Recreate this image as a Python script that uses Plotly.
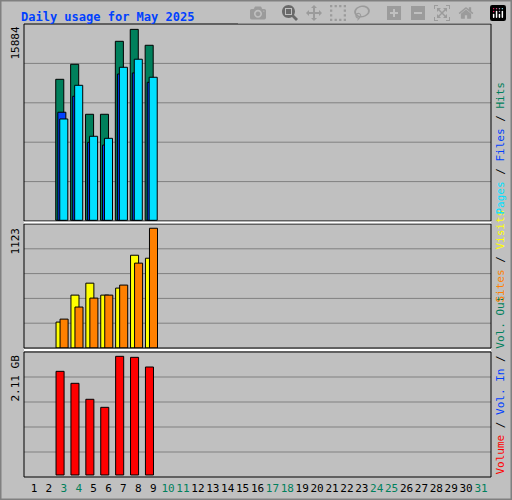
import plotly.graph_objects as go

days = [3, 4, 5, 6, 7, 8, 9]
hits = [11730, 12980, 8820, 8820, 14890, 15884, 14560]
files = [8990, 10320, 6490, 6260, 12170, 12260, 11480]
pages = [8430, 11230, 6990, 6820, 12730, 13400, 11900]
visits = [243, 496, 608, 496, 562, 870, 842]
sites = [271, 384, 468, 496, 590, 796, 1123]
volume_gb = [1.843, 1.630, 1.346, 1.203, 2.11, 2.092, 1.920]

all_days = list(range(1, 32))
weekend = [3, 4, 10, 11, 17, 18, 24, 25, 31]

C_HITS, C_FILES, C_PAGES = '#00805c', '#0040ff', '#00e0ff'
C_VISITS, C_SITES, C_VOL = '#ffff00', '#ff8000', '#ff0000'
FONT = 'DejaVu Sans Mono'

fig = go.Figure()
line = dict(color='black', width=1)

def bar(y, color, off, ax):
    fig.add_trace(go.Bar(x=days, y=y, marker_color=color, marker_line=line,
                         offset=off, width=0.54, xaxis='x', yaxis=ax))

bar(hits, C_HITS, -0.54, 'y')
bar(files, C_FILES, -0.40, 'y')
bar(pages, C_PAGES, -0.27, 'y')
bar(visits, C_VISITS, -0.52, 'y2')
bar(sites, C_SITES, -0.25, 'y2')
bar(volume_gb, C_VOL, -0.52, 'y3')

ticktext = ['<span style="color:%s">%d</span>' % ('#00805c' if d in weekend else 'black', d)
            for d in all_days]

xd = [24 / 512, 491 / 512]
yax = dict(showgrid=False, zeroline=False, showticklabels=False, fixedrange=True)
fig.update_layout(
    width=512, height=500, margin=dict(l=0, r=0, t=0, b=0),
    paper_bgcolor='#c0c0c0', plot_bgcolor='#c0c0c0',
    barmode='overlay', showlegend=False,
    font=dict(family=FONT, size=11, color='black'),
    xaxis=dict(domain=xd, range=[0.33, 31.67], anchor='y3', tickvals=all_days,
               ticktext=ticktext, ticks='', showgrid=False, zeroline=False,
               tickangle=0, ticklabelstandoff=3,
               tickfont=dict(family=FONT, size=11)),
    yaxis=dict(domain=[0.558, 0.952], range=[-58, 16330], anchor='x', **yax),
    yaxis2=dict(domain=[0.304, 0.552], range=[0, 1163], anchor='x', **yax),
    yaxis3=dict(domain=[0.046, 0.296], range=[-0.036, 2.187], anchor='x', **yax),
)

shapes = []
for ax in ['y', 'y2', 'y3']:
    for f in [0.2, 0.4, 0.6, 0.8]:
        shapes.append(dict(type='line', xref='x domain', yref=ax + ' domain',
                           x0=0, x1=1, y0=f, y1=f, line=dict(color='#808080', width=1),
                           layer='below'))
    shapes.append(dict(type='rect', xref='x domain', yref=ax + ' domain',
                       x0=0, x1=1, y0=0, y1=1, line=dict(color='black', width=1)))
for yp in [1 - 222.5 / 500, 1 - 350 / 500]:
    shapes.append(dict(type='line', xref='paper', yref='paper', x0=xd[0], x1=xd[1],
                       y0=yp, y1=yp, line=dict(color='white', width=2)))
shapes.append(dict(type='rect', xref='paper', yref='paper', x0=0.001, x1=0.999,
                   y0=0.001, y1=0.999, line=dict(color='#808080', width=2)))
fig.update_layout(shapes=shapes)

ann = [dict(text='<b>Daily usage for May 2025</b>', x=19 / 512, y=1 - 8 / 500,
            xanchor='left', yanchor='top', font=dict(color='#0040ff', size=12))]
for txt, ytop in [('15884', 25), ('1123', 226), ('2.11 GB', 353)]:
    ann.append(dict(text=txt, textangle=-90, x=15 / 512, y=1 - ytop / 500,
                    xanchor='center', yanchor='top'))

sep = '<span style="color:black"> / </span>'
def lbl(parts):
    return sep.join('<span style="color:%s">%s</span>' % p for p in parts)

for parts, ybot in [
    ([('#ff0000', 'Volume'), ('#0040ff', 'Vol. In'), ('#00805c', 'Vol. Out')], 477),
    ([('#ff8000', 'Sites'), ('#ffff00', 'Visits')], 305),
    ([('#00e0ff', 'Pages'), ('#0040ff', 'Files'), ('#00805c', 'Hits')], 217),
]:
    ann.append(dict(text=lbl(parts), textangle=-90, x=500 / 512, y=1 - ybot / 500,
                    xanchor='center', yanchor='bottom'))
fig.update_layout(annotations=[dict(xref='paper', yref='paper', showarrow=False, **a)
                               for a in ann])

fig.write_html("out.html", post_script="document.body.style.margin='0';")
